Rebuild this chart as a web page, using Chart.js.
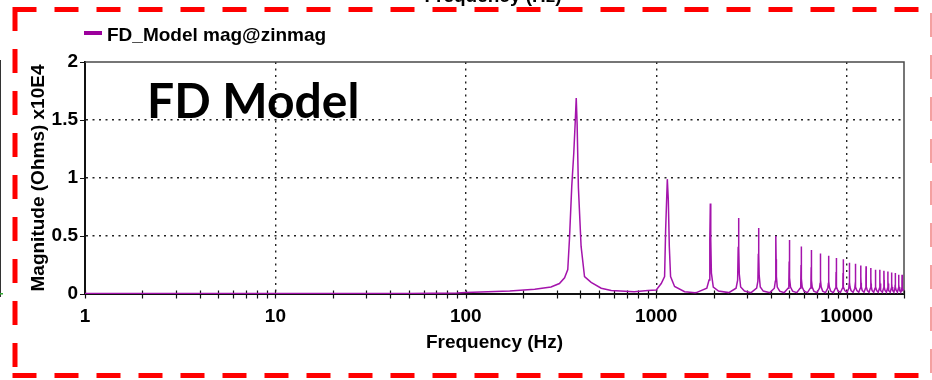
<!DOCTYPE html>
<html>
<head>
<meta charset="utf-8">
<script src="https://cdn.jsdelivr.net/npm/chart.js@4/dist/chart.umd.min.js"></script>
<style>
  html, body { margin: 0; padding: 0; background: #fff; }
  #wrap { width: 932px; height: 380px; position: relative; }
</style>
</head>
<body>
<div id="wrap"><canvas id="zin" width="932" height="380"></canvas></div>
<script>
// Impedance sweep, magnitude in units of 1E4 ohms
const freqHz = [
  // flat floor and first resonance
  1, 2, 5, 10, 20, 50, 90, 100, 170, 230, 280, 310, 330, 343, 350, 360, 369, 375, 380, 384, 390, 403, 420, 455, 514, 580, 766, 904,
  // second resonance
  1000, 1062, 1106, 1120, 1143, 1157, 1171, 1189, 1248, 1409, 1600,
  // higher odd harmonics
  1623, 1843, 1893, 1911, 1923, 1933, 1948, 1993, 2123,
  2405, 2625, 2675, 2693, 2705, 2715, 2730, 2775, 2905,
  3147, 3367, 3417, 3435, 3447, 3457, 3472, 3517, 3647,
  3950, 4170, 4220, 4238, 4250, 4260, 4275, 4320, 4450,
  4700, 4920, 4970, 4988, 5000, 5010, 5025, 5070, 5200,
  5470, 5690, 5740, 5758, 5770, 5780, 5795, 5840, 5970,
  6220, 6440, 6490, 6508, 6520, 6530, 6545, 6590, 6720,
  6980, 7200, 7250, 7268, 7280, 7290, 7305, 7350, 7480,
  7740, 7960, 8010, 8028, 8040, 8050, 8065, 8110, 8240,
  8510, 8730, 8780, 8798, 8810, 8820, 8835, 8880, 9010,
  9280, 9500, 9550, 9568, 9580, 9590, 9605, 9650, 9780,
  10040, 10260, 10310, 10328, 10340, 10350, 10365, 10410, 10540,
  10810, 11030, 11080, 11098, 11110, 11120, 11135, 11180, 11310,
  11570, 11790, 11840, 11858, 11870, 11880, 11895, 11940, 12070,
  12340, 12560, 12610, 12628, 12640, 12650, 12665, 12710, 12840,
  13100, 13320, 13370, 13388, 13400, 13410, 13425, 13470, 13600,
  13870, 14090, 14140, 14158, 14170, 14180, 14195, 14240, 14370,
  14640, 14860, 14910, 14928, 14940, 14950, 14965, 15010, 15140,
  15400, 15620, 15670, 15688, 15700, 15710, 15725, 15770, 15900,
  16170, 16390, 16440, 16458, 16470, 16480, 16495, 16540, 16670,
  16930, 17150, 17200, 17218, 17230, 17240, 17255, 17300, 17430,
  17700, 17920, 17970, 17988, 18000, 18010, 18025, 18070, 18200,
  18470, 18690, 18740, 18758, 18770, 18780, 18795, 18840, 18970,
  19230, 19450, 19500, 19518, 19530, 19540, 19555, 19600, 19730,
  20000
];
const magnitude = [
  0.004, 0.004, 0.004, 0.004, 0.004, 0.005, 0.008, 0.012, 0.025, 0.04, 0.06, 0.09, 0.14, 0.21, 0.47, 0.93, 1.22, 1.47, 1.69, 1.47, 0.92, 0.41, 0.15, 0.10, 0.05, 0.03, 0.02, 0.03,
  0.035, 0.09, 0.15, 0.55, 0.99, 0.81, 0.41, 0.15, 0.065, 0.02, 0.01,
  0.012, 0.05, 0.12, 0.47, 0.78, 0.47, 0.18, 0.06, 0.025,
  0.012, 0.05, 0.12, 0.40, 0.655, 0.40, 0.17, 0.06, 0.025,
  0.012, 0.05, 0.11, 0.34, 0.57, 0.34, 0.16, 0.06, 0.025,
  0.012, 0.05, 0.11, 0.30, 0.50, 0.30, 0.15, 0.06, 0.025,
  0.012, 0.05, 0.10, 0.28, 0.465, 0.28, 0.14, 0.06, 0.025,
  0.012, 0.05, 0.10, 0.25, 0.41, 0.25, 0.13, 0.06, 0.025,
  0.012, 0.05, 0.09, 0.23, 0.38, 0.23, 0.12, 0.06, 0.025,
  0.012, 0.05, 0.09, 0.21, 0.35, 0.21, 0.12, 0.06, 0.025,
  0.012, 0.05, 0.09, 0.20, 0.33, 0.20, 0.11, 0.06, 0.025,
  0.012, 0.05, 0.09, 0.19, 0.31, 0.19, 0.11, 0.06, 0.025,
  0.015, 0.05, 0.09, 0.18, 0.30, 0.18, 0.11, 0.06, 0.03,
  0.015, 0.05, 0.09, 0.16, 0.27, 0.16, 0.10, 0.06, 0.03,
  0.015, 0.05, 0.08, 0.16, 0.26, 0.16, 0.10, 0.06, 0.03,
  0.015, 0.05, 0.08, 0.15, 0.245, 0.15, 0.10, 0.06, 0.03,
  0.015, 0.05, 0.08, 0.14, 0.24, 0.14, 0.09, 0.06, 0.03,
  0.015, 0.05, 0.08, 0.135, 0.225, 0.135, 0.09, 0.06, 0.03,
  0.015, 0.05, 0.08, 0.13, 0.21, 0.13, 0.09, 0.06, 0.03,
  0.015, 0.05, 0.08, 0.125, 0.21, 0.125, 0.09, 0.06, 0.03,
  0.015, 0.05, 0.08, 0.12, 0.20, 0.12, 0.09, 0.06, 0.03,
  0.015, 0.05, 0.08, 0.115, 0.195, 0.115, 0.09, 0.06, 0.03,
  0.015, 0.05, 0.08, 0.11, 0.185, 0.11, 0.09, 0.06, 0.03,
  0.015, 0.05, 0.08, 0.11, 0.18, 0.11, 0.09, 0.06, 0.03,
  0.015, 0.05, 0.08, 0.10, 0.165, 0.10, 0.08, 0.06, 0.03,
  0.015, 0.05, 0.08, 0.10, 0.165, 0.10, 0.08, 0.06, 0.03,
  0.04
];

// axis ticks: every 1..9 step per decade, labels on decades only
const freqTicks = [
  1, 2, 3, 4, 5, 6, 7, 8, 9,
  10, 20, 30, 40, 50, 60, 70, 80, 90,
  100, 200, 300, 400, 500, 600, 700, 800, 900,
  1000, 2000, 3000, 4000, 5000, 6000, 7000, 8000, 9000,
  10000, 20000
];
const decadeLabels = [1, 10, 100, 1000, 10000];
const gridHz = [10, 100, 1000, 10000];
const gridMag = [0.5, 1, 1.5];

const traceColor = '#a414ac';
const labelFont = { family: 'Liberation Sans, Arial, sans-serif', size: 19, weight: 'bold' };

Chart.defaults.font.family = labelFont.family;
Chart.defaults.color = '#000';

// tick marks crossing the axes plus the top/right frame of the plot box
const plotFrame = {
  id: 'plotFrame',
  beforeDatasetsDraw(chart) {
    const { ctx, chartArea: a, scales: { x, y } } = chart;
    ctx.save();
    ctx.strokeStyle = '#4a4a4a';
    ctx.lineWidth = 1.5;
    ctx.beginPath();
    ctx.moveTo(a.left, a.top);
    ctx.lineTo(a.right, a.top);
    ctx.lineTo(a.right, a.bottom);
    ctx.stroke();

    ctx.strokeStyle = '#111';
    ctx.lineWidth = 1.2;
    ctx.beginPath();
    x.ticks.forEach(t => {
      const px = Math.round(x.getPixelForValue(t.value)) + 0.5;
      ctx.moveTo(px, a.bottom - 3.5);
      ctx.lineTo(px, a.bottom + 4.5);
    });
    y.ticks.forEach(t => {
      const py = Math.round(y.getPixelForValue(t.value)) + 0.5;
      ctx.moveTo(a.left - 5, py);
      ctx.lineTo(a.left, py);
    });
    ctx.stroke();
    ctx.restore();
  }
};

// legend, slide title and the dashed callout box
const overlay = {
  id: 'overlay',
  afterDraw(chart) {
    const { ctx } = chart;
    const ds = chart.data.datasets[0];
    ctx.save();

    // legend entry
    ctx.strokeStyle = '#9c009c';
    ctx.lineWidth = 4;
    ctx.beginPath();
    ctx.moveTo(84, 33);
    ctx.lineTo(102, 33);
    ctx.stroke();
    ctx.fillStyle = '#000';
    ctx.font = 'bold 19px ' + labelFont.family;
    ctx.textBaseline = 'alphabetic';
    ctx.textAlign = 'left';
    ctx.fillText(ds.label, 107, 41);

    // axis title of the plot above, cut by the edge
    ctx.textAlign = 'center';
    ctx.fillText('Frequency (Hz)', 493, 1.5);

    // big label
    ctx.textAlign = 'left';
    ctx.font = 'bold 48px Lato, "Open Sans", sans-serif';
    ctx.fillText('FD Model', 147, 118);

    // edge of the neighbouring figure
    ctx.strokeStyle = '#333';
    ctx.lineWidth = 1;
    ctx.beginPath();
    ctx.moveTo(0.5, 60);
    ctx.lineTo(0.5, 297);
    ctx.stroke();
    ctx.fillStyle = '#3a3';
    ctx.fillRect(0, 293, 3, 1.5);

    // red dashed box
    ctx.strokeStyle = '#ff0000';
    ctx.lineWidth = 5;
    ctx.setLineDash([24, 18]);
    ctx.beginPath();
    ctx.moveTo(12.5, 9.5);
    ctx.lineTo(940, 9.5);
    ctx.moveTo(12.5, 375.5);
    ctx.lineTo(940, 375.5);
    ctx.moveTo(15, 7);
    ctx.lineTo(15, 378);
    ctx.stroke();
    ctx.strokeStyle = '#f4a0a0';
    ctx.lineWidth = 2;
    ctx.beginPath();
    ctx.moveTo(931, 13);
    ctx.lineTo(931, 378);
    ctx.stroke();
    ctx.restore();
  }
};

new Chart(document.getElementById('zin'), {
  type: 'line',
  data: {
    datasets: [{
      label: 'FD_Model mag@zinmag',
      data: freqHz.map((f, i) => ({ x: f, y: magnitude[i] })),
      borderColor: traceColor,
      borderWidth: 1.5,
      pointRadius: 0,
      tension: 0,
      fill: false
    }]
  },
  options: {
    responsive: false,
    animation: false,
    layout: { padding: { top: 62, right: 28, bottom: 0, left: 0 } },
    plugins: {
      legend: { display: false },
      tooltip: { enabled: false }
    },
    scales: {
      x: {
        type: 'logarithmic',
        min: 1,
        max: 20000,
        afterBuildTicks: scale => {
          scale.ticks = freqTicks.map(v => ({ value: v, major: decadeLabels.includes(v) }));
        },
        afterFit: scale => { scale.height = 86; },
        ticks: {
          autoSkip: false,
          maxRotation: 0,
          padding: 11,
          color: '#000',
          font: labelFont,
          callback: v => decadeLabels.includes(v) ? String(v) : ''
        },
        grid: {
          drawTicks: false,
          lineWidth: 1.4,
          color: c => (c.tick && gridHz.includes(c.tick.value)) ? '#222' : 'rgba(0,0,0,0)'
        },
        border: { display: true, color: '#111', width: 2, dash: [2, 4.5] },
        title: {
          display: true,
          text: 'Frequency (Hz)',
          color: '#000',
          font: labelFont,
          padding: { top: 0, bottom: 26 }
        }
      },
      y: {
        min: 0,
        max: 2,
        afterFit: scale => { scale.width = 85; },
        ticks: {
          stepSize: 0.5,
          padding: 7,
          color: '#000',
          font: labelFont,
          callback: v => String(v)
        },
        grid: {
          drawTicks: false,
          lineWidth: 1.4,
          color: c => (c.tick && gridMag.includes(c.tick.value)) ? '#222' : 'rgba(0,0,0,0)'
        },
        border: { display: true, color: '#111', width: 2, dash: [2, 4.5] },
        title: {
          display: true,
          text: 'Magnitude (Ohms) x10E4',
          color: '#000',
          font: labelFont,
          padding: { top: 27, bottom: 0 }
        }
      }
    }
  },
  plugins: [plotFrame, overlay]
});
</script>
</body>
</html>
